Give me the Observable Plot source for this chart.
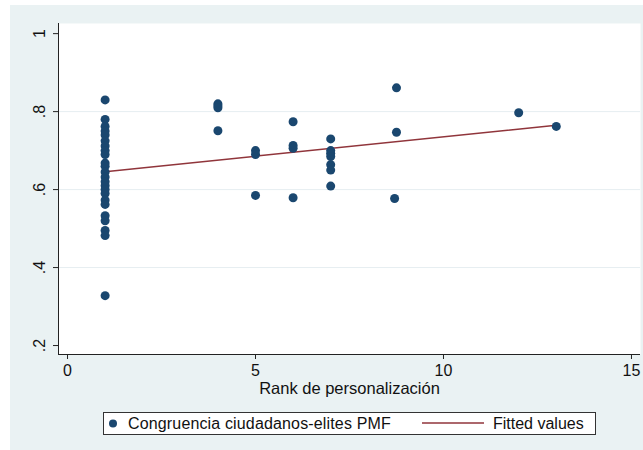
<!DOCTYPE html>
<html>
<head>
<meta charset="utf-8">
<script src="https://cdn.jsdelivr.net/npm/d3@7"></script>
<script src="https://cdn.jsdelivr.net/npm/@observablehq/plot@0.6"></script>
<style>
  body { margin: 0; background: white; }
  #wrap { position: relative; width: 643px; height: 450px; background: white; overflow: hidden; font-family: "Liberation Sans", Arial, sans-serif; }
  #bg { position: absolute; left: 10px; top: 5px; right: 0; bottom: 0; background: #eaf2f3; }
  #chart { position: absolute; left: 0; top: 0; }
  #legend { position: absolute; left: 103px; top: 412px; width: 491px; height: 21px; border: 1px solid #333; background: white; font-size: 16px; color: #111; }
  .li { position: absolute; top: 0; height: 21px; line-height: 21px; white-space: nowrap; }
</style>
</head>
<body>
<div id="wrap">
  <div id="bg"></div>
  <div id="chart"></div>
  <div id="legend">
    <span class="li" style="left:4px;"><svg width="10" height="21"><circle cx="5" cy="10.5" r="4" fill="#1a476f"/></svg></span>
    <span class="li" style="left:24px;letter-spacing:0.15px" id="lab1"></span>
    <span class="li" style="left:318px;"><svg width="62" height="21"><line x1="0" x2="62" y1="10" y2="10" stroke="#90353b" stroke-width="1.5"/></svg></span>
    <span class="li" style="left:389px;" id="lab2"></span>
  </div>
</div>
<script>
// Data
const rankX = [
  1,1,1,1,1,1,1,1,1,1,1,1,1,1,1,1,1,1,1,1,1,1,1,1,
  4,4,4,4,
  5,5,5,
  6,6,6,6,
  7,7,7,7,7,7,7,
  8.75,8.75,8.7,
  12,
  13
];
const congruencia = [
  0.83,0.78,0.762,0.75,0.74,0.725,0.712,0.70,0.69,0.668,0.66,0.645,0.632,0.62,0.61,0.60,0.59,0.573,0.562,0.533,0.52,0.495,0.482,0.328,
  0.82,0.815,0.81,0.751,
  0.70,0.69,0.585,
  0.774,0.713,0.706,0.579,
  0.73,0.70,0.693,0.685,0.664,0.65,0.609,
  0.861,0.747,0.577,
  0.797,
  0.762
];
const fitX = [1, 13];
const fitY = [0.646, 0.765];
const xTicks = [0, 5, 10, 15];
const yTicks = [0.2, 0.4, 0.6, 0.8, 1];
const yGrid = [0.4, 0.6, 0.8];
const seriesNames = ["Congruencia ciudadanos-elites PMF", "Fitted values"];
const xTitle = "Rank de personalización";

document.getElementById("lab1").textContent = seriesNames[0];
document.getElementById("lab2").textContent = seriesNames[1];

const points = rankX.map((x, i) => ({x, y: congruencia[i]}));
const fit = fitX.map((x, i) => ({x, y: fitY[i]}));

const xDomain = [-0.24, 15.24];
const yDomain = [0.177, 1.026];
const fmtY = d => d === 1 ? "1" : String(d).replace(/^0\./, ".");

const chart = Plot.plot({
  width: 643,
  height: 450,
  marginLeft: 58,
  marginRight: 3,
  marginTop: 23,
  marginBottom: 96,
  style: { background: "transparent", fontFamily: "'Liberation Sans', Arial, sans-serif", fontSize: "16px", color: "#111" },
  x: { domain: xDomain },
  y: { domain: yDomain },
  marks: [
    Plot.frame({ fill: "white", stroke: null }),
    Plot.ruleY(yGrid, { stroke: "#e6eef1", strokeWidth: 1 }),
    Plot.ruleX([xDomain[0]], { stroke: "#222", strokeWidth: 1 }),
    Plot.ruleY([yDomain[0]], { stroke: "#222", strokeWidth: 1 }),
    Plot.axisX({ ticks: xTicks, tickSize: 5, tickPadding: 5, label: null, fontSize: 16, stroke: "#222" }),
    Plot.axisY({ ticks: yTicks, tickSize: 5, tickPadding: 9, tickFormat: fmtY, tickRotate: -90, label: null, fontSize: 16, stroke: "#222" }),
    Plot.text([xTitle], { frameAnchor: "bottom", dy: 39, fontSize: 16.5, fill: "#111" }),
    Plot.line(fit, { x: "x", y: "y", stroke: "#90353b", strokeWidth: 1.5 }),
    Plot.dot(points, { x: "x", y: "y", r: 4.5, fill: "#1a476f", stroke: null })
  ]
});
document.getElementById("chart").appendChild(chart);
</script>
</body>
</html>
